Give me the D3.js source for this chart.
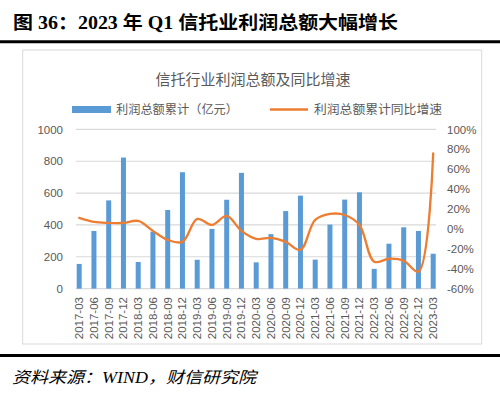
<!DOCTYPE html>
<html><head><meta charset="utf-8">
<script src="https://cdn.jsdelivr.net/npm/d3@7"></script>
<style>html,body{margin:0;padding:0;background:#fff;}svg{display:block;}</style>
</head><body>
<script>
const categories = ["2017-03","2017-06","2017-09","2017-12","2018-03","2018-06","2018-09","2018-12","2019-03","2019-06","2019-09","2019-12","2020-03","2020-06","2020-09","2020-12","2021-03","2021-06","2021-09","2021-12","2022-03","2022-06","2022-09","2022-12","2023-03"];
const profit = [155, 362, 554, 823, 167, 358, 494, 731, 181, 375, 558, 727, 165, 342, 487, 584, 182, 402, 559, 605, 124, 282, 385, 362, 219];
const growth = [11, 7, 6, 6, 8, -2, -11, -13, 10, 4, 13, -2, -10, -9, -13, -21, 9, 15, 14, 4, -33, -30, -32, -43, 76];
const leftTicks = [0, 200, 400, 600, 800, 1000];
const rightTicks = [-60, -40, -20, 0, 20, 40, 60, 80, 100];
const mainTitle = "图 36：2023 年 Q1 信托业利润总额大幅增长";
const chartTitle = "信托行业利润总额及同比增速";
const legendBar = "利润总额累计（亿元）";
const legendLine = "利润总额累计同比增速";
const sourceText = "资料来源：WIND，财信研究院";

const W = 500, H = 394;
const svg = d3.select("body").append("svg").attr("width", W).attr("height", H);
const gray = "#595959";
const sans = "'Liberation Sans','Noto Sans CJK SC',sans-serif";
const cjk = "'Noto Sans CJK SC',sans-serif";

// header
svg.append("text").attr("x", 13).attr("y", 29)
  .attr("font-family", "'Liberation Serif','Noto Sans CJK SC',serif")
  .attr("font-weight", "bold").attr("font-size", 18).attr("fill", "#000")
  .attr("textLength", 385).attr("lengthAdjust", "spacingAndGlyphs")
  .text(mainTitle);
svg.append("line").attr("x1", 0).attr("x2", W).attr("y1", 41.8).attr("y2", 41.8)
  .attr("stroke", "#000").attr("stroke-width", 3);

// chart box
svg.append("rect").attr("x", 22.7).attr("y", 50).attr("width", 459).attr("height", 294)
  .attr("fill", "#fff").attr("stroke", "#d9d9d9").attr("stroke-width", 1);

svg.append("text").attr("x", 253).attr("y", 84.5).attr("text-anchor", "middle")
  .attr("font-family", cjk).attr("font-size", 15).attr("fill", gray).text(chartTitle);

// legend
svg.append("rect").attr("x", 72).attr("y", 106).attr("width", 39).attr("height", 7).attr("fill", "#5B9BD5");
svg.append("text").attr("x", 116).attr("y", 113.5).attr("font-family", cjk).attr("font-size", 12)
  .attr("fill", gray).attr("textLength", 122).attr("lengthAdjust", "spacingAndGlyphs").text(legendBar);
svg.append("line").attr("x1", 270).attr("x2", 308).attr("y1", 109.5).attr("y2", 109.5)
  .attr("stroke", "#ED7D31").attr("stroke-width", 2.5);
svg.append("text").attr("x", 314).attr("y", 113.5).attr("font-family", cjk).attr("font-size", 12)
  .attr("fill", gray).attr("textLength", 128).attr("lengthAdjust", "spacingAndGlyphs").text(legendLine);

// scales
const x = d3.scalePoint().domain(categories).range([79.2, 433.2]);
const yL = d3.scaleLinear().domain([0, 1000]).range([288.6, 129.4]);
const yR = d3.scaleLinear().domain([-60, 100]).range([288.6, 129.4]);
const plotL = 76, plotR = 436;

// gridlines
svg.append("g").selectAll("line").data(leftTicks).join("line")
  .attr("x1", plotL).attr("x2", plotR)
  .attr("y1", d => yL(d)).attr("y2", d => yL(d))
  .attr("stroke", "#d9d9d9").attr("stroke-width", 1.2);

// left axis
const axL = d3.axisLeft(yL).tickValues(leftTicks).tickSize(0).tickPadding(0).tickFormat(d3.format("d"));
const gL = svg.append("g").attr("transform", "translate(63,0)").call(axL);
gL.select(".domain").remove();
gL.selectAll("text").attr("font-family", sans).attr("font-size", 11.5).attr("fill", gray);

// right axis
const axR = d3.axisRight(yR).tickValues(rightTicks).tickSize(0).tickPadding(0).tickFormat(d => d + "%");
const gR = svg.append("g").attr("transform", "translate(447,0)").call(axR);
gR.select(".domain").remove();
gR.selectAll("text").attr("font-family", sans).attr("font-size", 11.5).attr("fill", gray);

// bars
const bw = 5;
svg.append("g").selectAll("rect").data(profit).join("rect")
  .attr("x", (d, i) => x(categories[i]) - bw / 2)
  .attr("width", bw)
  .attr("y", d => yL(d))
  .attr("height", d => yL(0) - yL(d))
  .attr("fill", "#5B9BD5");

// line
const line = d3.line()
  .x((d, i) => x(categories[i]))
  .y(d => yR(d))
  .curve(d3.curveCatmullRom.alpha(0.5));
svg.append("path").datum(growth).attr("d", line)
  .attr("fill", "none").attr("stroke", "#ED7D31").attr("stroke-width", 2.3)
  .attr("stroke-linejoin", "round").attr("stroke-linecap", "round");

// x labels
svg.append("g").selectAll("text").data(categories).join("text")
  .attr("transform", d => `translate(${x(d) + 4},297) rotate(-90)`)
  .attr("text-anchor", "end")
  .attr("font-family", sans).attr("font-size", 11.5).attr("fill", gray)
  .text(d => d);

// footer
svg.append("line").attr("x1", 0).attr("x2", W).attr("y1", 355.5).attr("y2", 355.5)
  .attr("stroke", "#000").attr("stroke-width", 3);
svg.append("text").attr("x", 12).attr("y", 383)
  .attr("font-family", "'Liberation Serif','Noto Sans CJK SC',serif")
  .attr("font-style", "italic").attr("font-size", 16).attr("fill", "#000")
  .attr("textLength", 244).attr("lengthAdjust", "spacingAndGlyphs")
  .text(sourceText);
</script>
</body></html>
